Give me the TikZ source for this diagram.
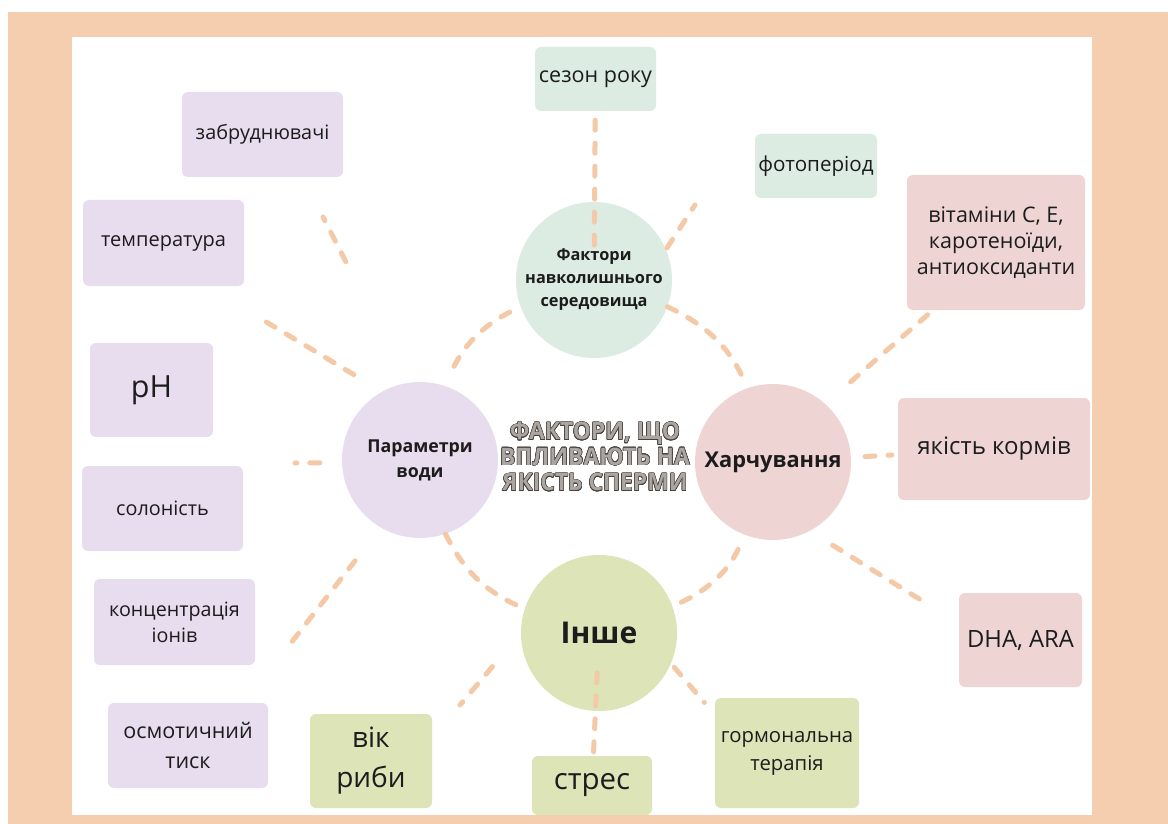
\documentclass[tikz,border=0pt]{standalone}
\usepackage{fontspec}
\setmainfont{Open Sans}
\usepackage{contour}
\contourlength{0.55pt}
\tikzstyle{every path}=[line width=0.4pt]
\definecolor{frame}{RGB}{245,206,176}
\definecolor{dashline}{RGB}{244,201,167}
\definecolor{environment}{RGB}{221,236,226}
\definecolor{waterparam}{RGB}{231,221,238}
\definecolor{nutrition}{RGB}{239,212,212}
\definecolor{otherfactor}{RGB}{220,228,184}
\definecolor{titlefill}{RGB}{172,166,162}
\definecolor{titleline}{RGB}{72,65,61}
\definecolor{ink}{RGB}{28,28,28}
\newcommand{\fsz}[2]{\fontsize{#1}{#2}\selectfont}
\tikzstyle{every node}=[text=ink]
\tikzstyle{hub}=[circle, minimum size=156pt, inner sep=0pt, align=center]
\tikzstyle{card}=[rectangle, rounded corners=6pt, inner sep=0pt, align=center]
\tikzstyle{link}=[draw=dashline, line width=5pt, line cap=round, dash pattern=on 10pt off 13pt]

\begin{document}
\begin{tikzpicture}[x=1pt, y=-1pt]
    \useasboundingbox (0,0) rectangle (1168,824);
    \fill[white] (0,0) rectangle (1168,824);
    \fill[frame] (8,12) rectangle (1168,824);
    \fill[white] (72,37) rectangle (1092,815);

    % hubs
    \node[hub, fill=environment, font=\bfseries\fsz{16.3}{23}] (env) at (594,280) {Фактори\\навколишнього\\середовища};
    \node[hub, fill=waterparam, font=\bfseries\fsz{17.8}{25}] (water) at (420,460) {Параметри\\води};
    \node[hub, fill=nutrition, font=\bfseries\fsz{21.8}{25}] (nutrition) at (773,462) {Харчування};
    \node[hub, fill=otherfactor, font=\bfseries\fsz{30}{32}] (other) at (599,633) {Інше};

    % title
    \node[font=\bfseries\fsz{24}{25.5}, xscale=0.95, align=center, text=titlefill] (title) at (595,457)
        {\contour{titleline}{ФАКТОРИ, ЩО}\\\contour{titleline}{ВПЛИВАЮТЬ НА}\\\contour{titleline}{ЯКІСТЬ СПЕРМИ}};

    % environment cards
    \node[card, fill=environment, minimum width=121pt, minimum height=64pt, font=\fsz{21.5}{26}] (season) at (595.5,79) {сезон року};
    \node[card, fill=environment, minimum width=122pt, minimum height=64pt, font=\fsz{20.6}{25}] (photoperiod) at (816,166) {фотоперіод};

    % water cards
    \node[card, fill=waterparam, minimum width=161pt, minimum height=85pt, font=\fsz{19.8}{25}] (pollutants) at (262.5,134.5) {забруднювачі};
    \node[card, fill=waterparam, minimum width=161pt, minimum height=86pt, font=\fsz{20}{25}] (temperature) at (163.5,243) {температура};
    \node[card, fill=waterparam, minimum width=123pt, minimum height=94pt, font=\fsz{30.5}{34}] (ph) at (151.5,390) {pH};
    \node[card, fill=waterparam, minimum width=161pt, minimum height=85pt, font=\fsz{19.8}{25}] (salinity) at (162.5,508.5) {солоність};
    \node[card, fill=waterparam, minimum width=161pt, minimum height=86pt, font=\fsz{19.7}{26}] (ions) at (174.5,622) {концентрація\\іонів};
    \node[card, fill=waterparam, minimum width=160pt, minimum height=85pt, font=\fsz{21.5}{30}] (osmotic) at (188,745.5) {осмотичний\\тиск};

    % other cards
    \node[card, fill=otherfactor, minimum width=122pt, minimum height=94pt, font=\fsz{28}{40}] (fishage) at (371,761) {вік\\риби};
    \node[card, fill=otherfactor, minimum width=120pt, minimum height=59pt, font=\fsz{29.5}{32}] (stress) at (592,785.5) {стрес};
    \node[card, fill=otherfactor, minimum width=144pt, minimum height=110pt, font=\fsz{20.3}{28}] (hormones) at (787,753) {гормональна\\терапія};

    % nutrition cards
    \node[card, fill=nutrition, minimum width=178pt, minimum height=135pt, font=\fsz{21.5}{26}] (vitamins) at (996,242.5) {вітаміни C, E,\\каротеноїди,\\антиоксиданти};
    \node[card, fill=nutrition, minimum width=192pt, minimum height=102pt, font=\fsz{24}{28}] (feed) at (994,449) {якість кормів};
    \node[card, fill=nutrition, minimum width=123pt, minimum height=94pt, font=\fsz{23.8}{28}] (dha) at (1020.5,640) {DHA, ARA};

    % free ends of the short dashes
    \coordinate (photoEnd) at (695,205);
    \coordinate (pollutEnd) at (323,217);
    \coordinate (tempEnd) at (258,317);
    \coordinate (phEnd) at (295,463);
    \coordinate (ionsEnd) at (287,648);
    \coordinate (ageEnd) at (460,705);

    % ring between hubs
    \draw[link, shorten >=9pt] (env.-20) to[bend left=20] (nutrition.109);
    \draw[link, shorten <=12pt, shorten >=17pt] (env.200) to[bend right=20] (water.71);
    \draw[link] (water.-71) to[bend right=20] (other.162);
    \draw[link, shorten <=16pt, shorten >=8pt] (nutrition.-111) to[bend left=20] (other.20);

    % spokes
    \draw[link, shorten <=9pt, shorten >=-45pt] (season) -- (env);
    \draw[link, shorten <=2pt] (env.23) -- (photoEnd);
    \draw[link, shorten <=136pt] (water.99) -- (pollutEnd);
    \draw[link, shorten <=33pt] (water.119) -- (tempEnd);
    \draw[link, shorten <=22pt] (water.182) -- (phEnd);
    \draw[link, shorten <=42pt] (water.-120) -- (ionsEnd);
    \draw[link, shorten <=44pt] (other.180) -- (ageEnd);
    \draw[link, shorten <=4pt, shorten >=-50pt] (stress) -- (other);
    \draw[link, shorten <=5pt, shorten >=16pt] (other.-23) -- (hormones.152);
    \draw[link, shorten <=14pt, shorten >=6pt] (nutrition) -- (feed);
    \draw[link, shorten <=27pt, shorten >=38pt] (nutrition.-62) -- (dha.165);
    \draw[link, shorten <=7pt, shorten >=26pt] (vitamins.-133) -- (nutrition.48);
\end{tikzpicture}
\end{document}
